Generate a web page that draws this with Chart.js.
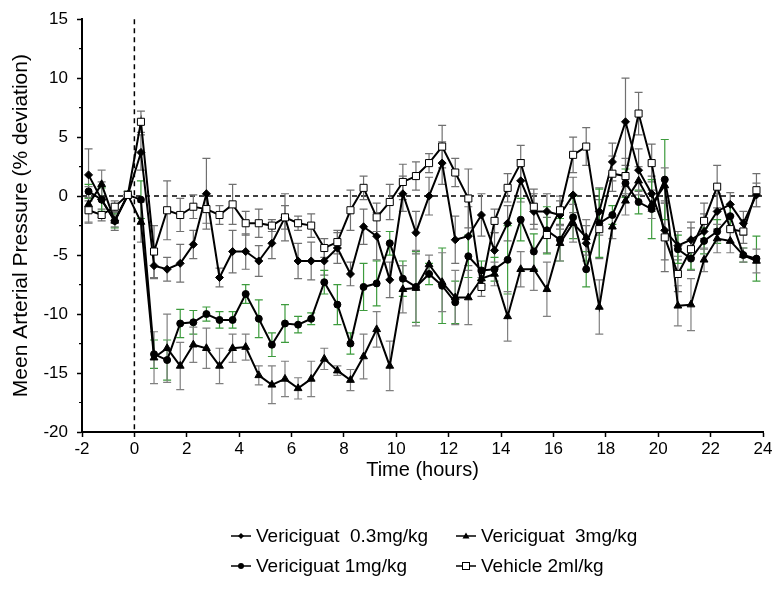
<!DOCTYPE html>
<html>
<head>
<meta charset="utf-8">
<script src="https://cdn.jsdelivr.net/npm/chart.js@4.4.1/dist/chart.umd.min.js"></script>
<style>
body { margin: 0; background: #fff; }
#wrap { position: relative; width: 780px; height: 591px; }
#legend { position: absolute; left: 0; top: 0; font-family: "Liberation Sans", Arial, sans-serif; font-size: 19px; color: #000; }
.item { position: absolute; display: flex; align-items: center; white-space: pre; height: 24px; }
.item svg { margin-right: 4px; }
</style>
</head>
<body>
<div id="wrap">
    <canvas id="chart" width="780" height="591"></canvas>
    <div id="legend"></div>
</div>
<script>
// time points (hours)
const hours = [-1.75, -1.25, -0.75, -0.25, 0.25, 0.75, 1.25, 1.75, 2.25, 2.75,
    3.25, 3.75, 4.25, 4.75, 5.25, 5.75, 6.25, 6.75, 7.25, 7.75,
    8.25, 8.75, 9.25, 9.75, 10.25, 10.75, 11.25, 11.75, 12.25, 12.75,
    13.25, 13.75, 14.25, 14.75, 15.25, 15.75, 16.25, 16.75, 17.25, 17.75,
    18.25, 18.75, 19.25, 19.75, 20.25, 20.75, 21.25, 21.75, 22.25, 22.75,
    23.25, 23.75];

// Vericiguat 0.3mg/kg
const dose03 = [1.8, -0.3, -2.1, 0.1, 3.7, -5.9, -6.2, -5.7, -4.1, 0.2,
    -6.9, -4.7, -4.7, -5.5, -4.0, -1.8, -5.5, -5.5, -5.5, -4.4,
    -6.6, -2.6, -3.4, -7.1, 0.2, -3.1, 0.0, 2.8, -3.7, -3.4,
    -1.6, -4.6, -2.3, 1.3, -1.3, -1.3, -1.6, 0.1, -4.0, -1.3,
    2.9, 6.3, 2.2, 0.2, -2.9, -4.2, -3.7, -3.0, -1.3, -0.7,
    -2.3, 0.1];
const err03 = [2.2, 1.5, 0.8, 0.3, 1.5, 1.1, 1.0, 1.6, 1.2, 3.0,
    0.8, 1.8, 1.5, 1.3, 1.3, 2.0, 1.5, 1.6, 1.2, 1.3,
    1.0, 1.5, 2.0, 1.5, 1.5, 1.8, 1.6, 1.8, 2.0, 2.5,
    1.8, 1.5, 1.5, 1.8, 1.5, 1.5, 1.2, 1.5, 1.5, 2.0,
    1.6, 3.7, 1.8, 1.5, 2.5, 1.2, 1.5, 1.5, 1.5, 1.0,
    1.0, 1.0];

// Vericiguat 1mg/kg
const dose1 = [0.4, -0.3, -2.1, 0.1, -0.3, -13.4, -13.9, -10.8, -10.7, -10.0,
    -10.5, -10.5, -8.3, -10.4, -12.6, -10.8, -10.9, -10.4, -7.3, -9.2,
    -12.5, -7.7, -7.4, -4.0, -7.0, -7.7, -6.6, -7.6, -9.0, -5.1,
    -6.3, -6.2, -5.4, -2.0, -4.7, -2.9, -3.7, -1.8, -6.2, -2.3,
    -1.6, 1.1, -0.5, -1.1, 1.4, -4.5, -5.3, -3.8, -3.0, -1.7,
    -5.0, -5.3];
const err1 = [0.6, 1.0, 0.6, 0.3, 1.6, 1.2, 1.7, 1.2, 1.0, 0.6,
    0.7, 0.7, 0.8, 1.6, 1.0, 1.6, 0.7, 0.5, 1.0, 1.7,
    0.9, 2.0, 1.9, 1.0, 1.5, 3.0, 0.9, 3.2, 1.8, 1.8,
    0.8, 1.0, 2.9, 1.8, 1.5, 2.0, 1.8, 1.8, 1.5, 2.9,
    0.8, 1.2, 1.0, 2.5, 3.4, 1.2, 0.9, 1.1, 1.0, 1.0,
    0.6, 1.9];

// Vericiguat 3mg/kg
const dose3 = [-0.7, 1.0, -2.1, 0.1, -2.2, -13.7, -12.9, -14.4, -12.6, -12.9,
    -14.4, -12.9, -12.8, -15.2, -16.0, -15.5, -16.3, -15.5, -13.8, -14.8,
    -15.6, -13.6, -11.3, -14.4, -7.9, -7.8, -5.8, -7.3, -8.6, -8.6,
    -7.0, -6.6, -10.2, -6.2, -6.2, -7.9, -4.0, -2.3, -3.5, -9.4,
    -2.6, -0.4, 1.3, -0.7, 0.9, -9.3, -9.2, -5.4, -3.6, -3.8,
    -5.0, -5.5];
const err3 = [1.5, 1.2, 0.5, 0.3, 1.7, 2.2, 2.9, 2.0, 1.5, 1.7,
    1.5, 1.2, 1.1, 0.8, 1.6, 1.5, 0.9, 1.5, 0.9, 0.4,
    0.9, 1.9, 1.5, 2.1, 2.0, 3.2, 0.8, 2.5, 2.3, 2.3,
    0.6, 1.0, 2.1, 1.5, 1.8, 2.3, 1.5, 1.6, 1.5, 2.3,
    1.0, 1.2, 1.2, 1.2, 1.5, 1.7, 2.2, 1.0, 1.2, 1.0,
    0.6, 1.0];

// Vehicle 2ml/kg
const vehicle = [-1.2, -1.6, -0.9, 0.1, 6.3, -4.7, -1.2, -1.6, -0.9, -1.1,
    -1.6, -0.7, -2.3, -2.3, -2.5, -1.8, -2.3, -2.5, -4.4, -3.9,
    -1.2, 0.7, -1.8, -0.5, 1.2, 1.7, 2.8, 4.2, 2.0, -0.2,
    -7.7, -2.1, 0.7, 2.8, -0.9, -3.3, -1.2, 3.5, 4.2, -2.8,
    1.9, 1.7, 7.0, 2.8, -3.5, -6.6, -4.5, -2.1, 0.8, -2.8,
    -3.0, 0.5];
const errVeh = [1.1, 0.5, 0.5, 0.3, 0.9, 2.2, 2.5, 1.4, 1.0, 1.2,
    0.8, 1.7, 1.0, 1.2, 0.5, 1.0, 0.6, 1.0, 0.8, 1.0,
    1.7, 1.0, 1.2, 1.5, 1.5, 1.2, 0.8, 1.8, 1.2, 2.5,
    0.8, 1.0, 1.2, 1.5, 1.5, 1.5, 1.2, 1.5, 1.6, 2.5,
    1.5, 1.5, 1.8, 1.6, 2.9, 1.5, 1.8, 1.5, 1.8, 1.2,
    1.0, 1.4];

const yTicks = [-20, -15, -10, -5, 0, 5, 10, 15];
const yMinorTicks = [-17.5, -12.5, -7.5, -2.5, 2.5, 7.5, 12.5];

Chart.defaults.font.family = '"Liberation Sans", Arial, sans-serif';
Chart.defaults.color = '#000';

function makeSet(label, values, errs, style, radius, fill, errColor, order) {
    return {
        label: label,
        data: hours.map((h, i) => ({ x: h, y: values[i] })),
        err: errs,
        errColor: errColor,
        borderColor: '#000',
        borderWidth: 2,
        pointStyle: style,
        pointRadius: radius,
        pointBackgroundColor: fill,
        pointBorderColor: '#000',
        pointBorderWidth: 1,
        tension: 0,
        order: order
    };
}

// error bars + dashed reference lines, under the series
const underlay = {
    id: 'underlay',
    beforeDatasetsDraw(chart) {
        const ctx = chart.ctx, xs = chart.scales.x, ys = chart.scales.y;
        const area = chart.chartArea;
        ctx.save();
        ctx.strokeStyle = '#000';
        ctx.lineWidth = 1.5;
        ctx.setLineDash([5, 4]);
        ctx.beginPath();
        ctx.moveTo(area.left, ys.getPixelForValue(0));
        ctx.lineTo(area.right, ys.getPixelForValue(0));
        ctx.moveTo(xs.getPixelForValue(0), area.top);
        ctx.lineTo(xs.getPixelForValue(0), area.bottom);
        ctx.stroke();
        ctx.setLineDash([]);
        chart.data.datasets.forEach(d => {
            ctx.strokeStyle = d.errColor;
            ctx.lineWidth = 1.2;
            ctx.beginPath();
            d.data.forEach((p, i) => {
                const px = xs.getPixelForValue(p.x);
                const top = ys.getPixelForValue(p.y + d.err[i]);
                const bot = ys.getPixelForValue(p.y - d.err[i]);
                ctx.moveTo(px, top); ctx.lineTo(px, bot);
                ctx.moveTo(px - 4, top); ctx.lineTo(px + 4, top);
                ctx.moveTo(px - 4, bot); ctx.lineTo(px + 4, bot);
            });
            ctx.stroke();
        });
        ctx.restore();
    },
    afterDraw(chart) {
        const ctx = chart.ctx, ys = chart.scales.y;
        const left = chart.chartArea.left;
        ctx.save();
        ctx.strokeStyle = '#000';
        ctx.lineWidth = 1.2;
        ctx.beginPath();
        yMinorTicks.forEach(v => {
            const py = ys.getPixelForValue(v);
            ctx.moveTo(left - 3, py);
            ctx.lineTo(left, py);
        });
        ctx.stroke();
        ctx.restore();
    }
};

new Chart(document.getElementById('chart'), {
    type: 'line',
    data: {
        datasets: [
            makeSet('Vehicle 2ml/kg', vehicle, errVeh, 'rect', 5, '#fff', '#707070', 0),
            makeSet('Vericiguat  0.3mg/kg', dose03, err03, 'rectRot', 4, '#000', '#707070', 1),
            makeSet('Vericiguat 1mg/kg', dose1, err1, 'circle', 3.5, '#000', '#3d9b3d', 2),
            makeSet('Vericiguat  3mg/kg', dose3, err3, 'triangle', 4.5, '#000', '#808080', 3)
        ]
    },
    options: {
        responsive: false,
        animation: false,
        layout: { padding: { top: 18, right: 17, bottom: 0, left: 0 } },
        plugins: { legend: { display: false }, tooltip: { enabled: false } },
        scales: {
            x: {
                type: 'linear',
                min: -2,
                max: 24,
                ticks: { stepSize: 2, font: { size: 17 }, padding: 2, color: '#000' },
                grid: { drawOnChartArea: false, tickLength: 5, tickColor: '#000', tickWidth: 1.5 },
                border: { color: '#000', width: 2 },
                title: { display: true, text: 'Time (hours)', font: { size: 20 }, padding: { top: 0, bottom: 109 } },
                afterFit: s => { s.height = 159; }
            },
            y: {
                min: -20,
                max: 15,
                afterBuildTicks: s => { s.ticks = yTicks.map(v => ({ value: v })); },
                ticks: { font: { size: 17 }, padding: 9, color: '#000' },
                grid: { drawOnChartArea: false, tickLength: 5, tickColor: '#000', tickWidth: 1.5 },
                border: { color: '#000', width: 2 },
                title: { display: true, text: 'Meen Arterial Pressure (% deviation)', font: { size: 21 }, padding: { top: 9, bottom: 0 } },
                afterFit: s => { s.width = 82; }
            }
        }
    },
    plugins: [underlay]
});

// legend laid out as in the figure (2 x 2)
const legendItems = [
    { text: 'Vericiguat  0.3mg/kg', marker: 'diamond', left: 230, top: 524 },
    { text: 'Vericiguat  3mg/kg', marker: 'triangle', left: 455, top: 524 },
    { text: 'Vericiguat 1mg/kg', marker: 'circle', left: 230, top: 554 },
    { text: 'Vehicle 2ml/kg', marker: 'square', left: 455, top: 554 }
];
const markerSvg = {
    diamond: '<polygon points="11,3 14,6 11,9 8,6" fill="#000"/>',
    triangle: '<polygon points="11,2.5 14.5,8.5 7.5,8.5" fill="#000"/>',
    circle: '<circle cx="11" cy="6" r="3" fill="#000"/>',
    square: '<rect x="7.5" y="2.5" width="7" height="7" fill="#fff" stroke="#000" stroke-width="1"/>'
};
legendItems.forEach(it => {
    const div = document.createElement('div');
    div.className = 'item';
    div.style.left = it.left + 'px';
    div.style.top = it.top + 'px';
    div.innerHTML = '<svg width="22" height="12"><line x1="1" y1="6" x2="21" y2="6" stroke="#000" stroke-width="1.5"/>' +
        markerSvg[it.marker] + '</svg><span>' + it.text + '</span>';
    document.getElementById('legend').appendChild(div);
});
</script>
</body>
</html>
